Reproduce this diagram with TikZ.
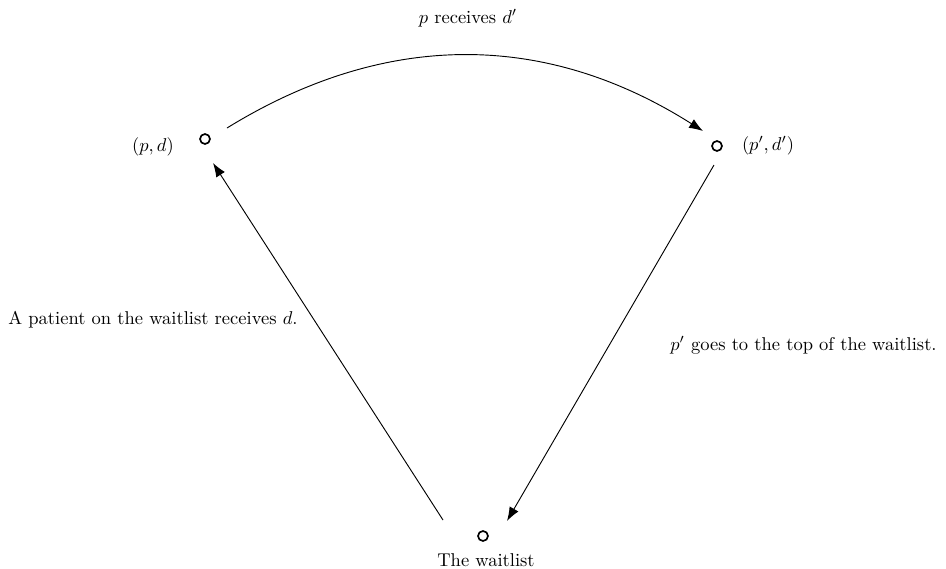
\documentclass[tikz,border=0pt]{standalone}
\usetikzlibrary{arrows.meta,calc}
\begin{document}
\begin{tikzpicture}[x=0.54pt,y=-0.54pt,
  dot/.style={circle,draw,line width=0.9pt,inner sep=0pt,minimum size=5.4pt},
  conn/.style={line width=0.5pt,-{Latex[length=7.5pt,width=5.5pt]}},
  lbl/.style={inner sep=0pt}]
\useasboundingbox (0,0) rectangle (946,569);
\node[dot] (a) at (205,139) {};
\node[dot] (b) at (717,146) {};
\node[dot] (c) at (483,536) {};
\node[lbl] (la) at (153,147) {$(p,d)$};
\node[lbl] (lb) at (768,146) {$(p',d')$};
\node[lbl] (lc) at (486,560) {The waitlist};
\node[lbl] (ltop) at (468,18) {$p$ receives $d'$};
\node[lbl,anchor=west] (lleft) at (8,320) {A patient on the waitlist receives $d$.};
\node[lbl,anchor=east] (lright) at (937,345) {$p'$ goes to the top of the waitlist.};
\draw[conn] ($(a)+(22,-11)$) to[bend left=32] ($(b)+(-14,-15)$);
\draw[conn] ($(b)+(-3,19)$) -- ($(c)+(24,-15)$);
\draw[conn] ($(c)+(-40,-16)$) -- ($(a)+(8,24)$);
\end{tikzpicture}
\end{document}
